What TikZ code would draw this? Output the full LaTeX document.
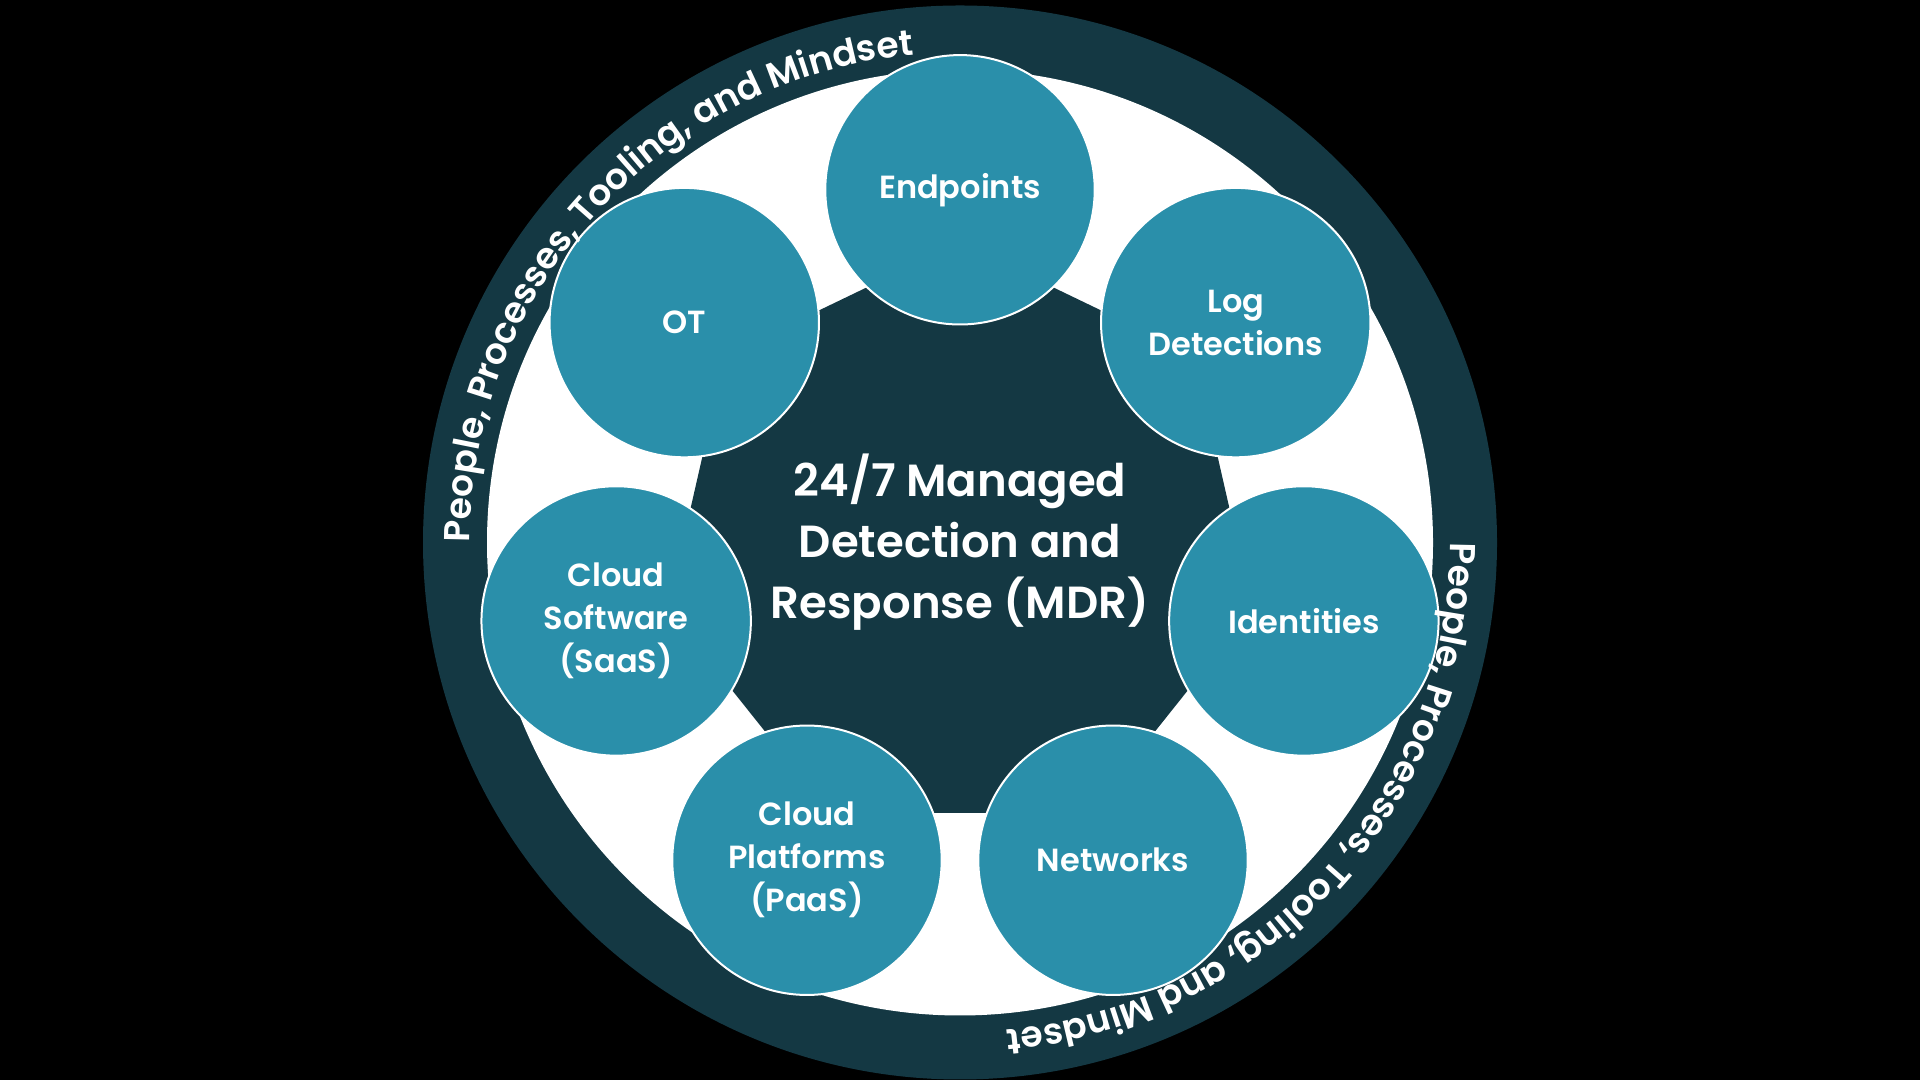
\documentclass[tikz,border=0pt]{standalone}
\usepackage{fontspec}
\newfontfamily\popsb{Poppins SemiBold}
\usetikzlibrary{decorations.text}
\definecolor{ringdark}{HTML}{143843}
\definecolor{tealc}{HTML}{2A8FAA}
\tikzset{
  item/.style={circle, fill=tealc, draw=white, line width=1pt, minimum size=134.7pt,
    inner sep=0pt, align=center, text=white, font=\popsb\fontsize{16}{21.5}\selectfont},
  hub/.style={align=center, text=white, font=\popsb\fontsize{22.5}{30.5}\selectfont},
  ringtext/.style={decorate, decoration={text along path, text align=left,
    text={|\popsb\fontsize{18}{18}\selectfont\color{white}|People, Processes, Tooling, and Mindset}}}
}
\begin{document}
\begin{tikzpicture}[x=0.5pt,y=0.5pt]
\fill[black] (0,0) rectangle (1920,1080);
\useasboundingbox (0,0) rectangle (1920,1080);
\coordinate (C) at (960,537.5);
\fill[ringdark] (C) circle[radius=537];
\fill[white] (C) circle[radius=473];
\fill[ringdark] ([shift={(90:300)}]C) \foreach \k in {1,...,6}{ -- ([shift={(90+\k*51.4286:300)}]C)} -- cycle;
\node[hub] (hub) at (C) {24/7 Managed\\Detection and\\Response (MDR)};
\node[item] (ep) at ([shift={(90:352.7)}]C) {Endpoints};
\node[item] (log) at ([shift={(38.571:352.7)}]C) {Log\\Detections};
\node[item] (id) at ([shift={(-12.857:352.7)}]C) {Identities};
\node[item] (net) at ([shift={(-64.286:352.7)}]C) {Networks};
\node[item] (paas) at ([shift={(-115.714:352.7)}]C) {Cloud\\Platforms\\(PaaS)};
\node[item] (saas) at ([shift={(-167.143:352.7)}]C) {Cloud\\Software\\(SaaS)};
\node[item] (ot) at ([shift={(141.429:352.7)}]C) {OT};
\path[ringtext] ([shift={(180:490)}]C) arc[start angle=180,end angle=80,radius=490];
\path[ringtext] ([shift={(0:490)}]C) arc[start angle=0,end angle=-100,radius=490];
\end{tikzpicture}
\end{document}
